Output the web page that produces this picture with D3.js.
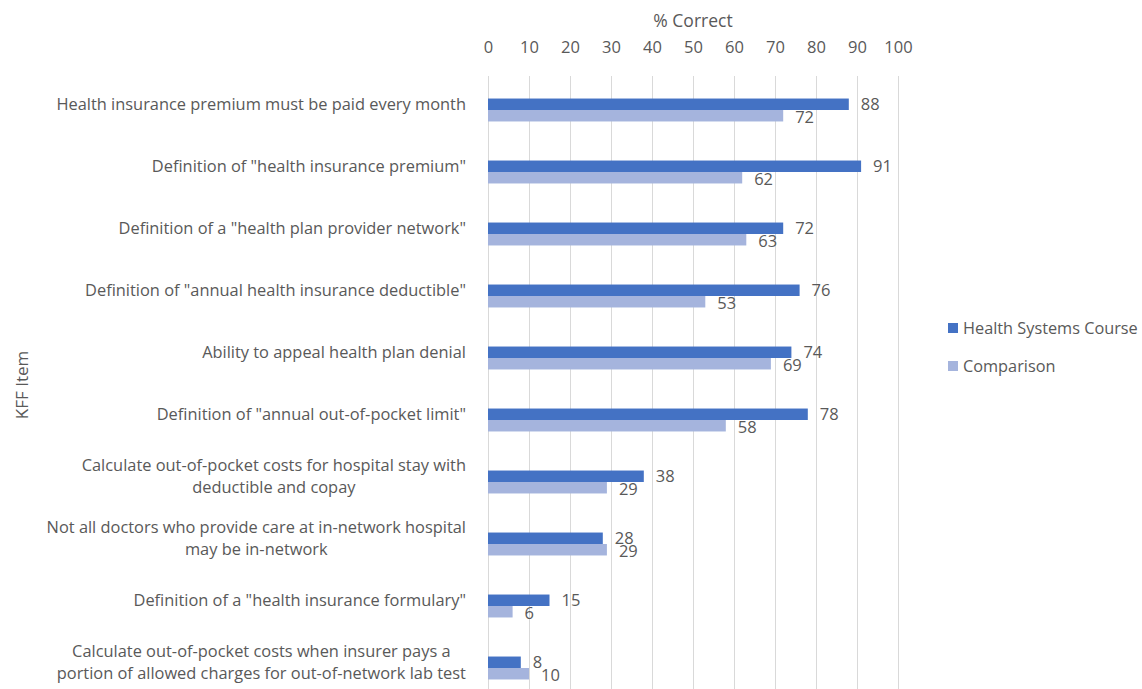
<!DOCTYPE html>
<html><head><meta charset="utf-8">
<script src="https://cdn.jsdelivr.net/npm/d3@7"></script>
<style>body{margin:0;background:#fff}svg{display:block}</style>
</head><body>
<svg id="c" width="1142" height="689"></svg>
<script>
const categories = [
  ["Health insurance premium must be paid every month"],
  ["Definition of \"health insurance premium\""],
  ["Definition of a \"health plan provider network\""],
  ["Definition of \"annual health insurance deductible\""],
  ["Ability to appeal health plan denial"],
  ["Definition of \"annual out-of-pocket limit\""],
  ["Calculate out-of-pocket costs for hospital stay with", "deductible and copay"],
  ["Not all doctors who provide care at in-network hospital", "may be in-network"],
  ["Definition of a \"health insurance formulary\""],
  ["Calculate out-of-pocket costs when insurer pays a", "portion of allowed charges for out-of-network lab test"]
];
const seriesNames = ["Health Systems Course", "Comparison"];
const courseValues = [88, 91, 72, 76, 74, 78, 38, 28, 15, 8];
const comparisonValues = [72, 62, 63, 53, 69, 58, 29, 29, 6, 10];
const xTicks = [0, 10, 20, 30, 40, 50, 60, 70, 80, 90, 100];
const colors = ["#4472C4", "#A5B4DD"];

const svg = d3.select("#c");
const font = "'Open Sans', 'Noto Sans', sans-serif";
const textColor = "#595959";
const L = 488, R = 898, T = 76, B = 689;

const x = d3.scaleLinear().domain([0, 100]).range([L, R]);
const keys = categories.map((c, i) => i);
const y = d3.scaleBand().domain(keys).range([79, 699]).paddingInner(0.63).paddingOuter(0.315);
const ys = d3.scaleBand().domain(seriesNames).range([0, y.bandwidth()]);

// gridlines
svg.append("g").selectAll("line").data(xTicks).join("line")
  .attr("x1", d => x(d) + 0.5).attr("x2", d => x(d) + 0.5)
  .attr("y1", T).attr("y2", B)
  .attr("stroke", "#d9d9d9").attr("stroke-width", 1);

// top axis
const ax = svg.append("g").attr("transform", `translate(0,${T})`)
  .call(d3.axisTop(x).tickValues(xTicks).tickSize(0).tickPadding(23));
ax.select(".domain").remove();
ax.selectAll("text").attr("font-family", font).attr("font-size", 16.5).attr("fill", textColor);

svg.append("text").attr("x", x(50)).attr("y", 21).attr("dy", "0.35em")
  .attr("text-anchor", "middle").attr("font-family", font).attr("font-size", 17.5)
  .attr("fill", textColor).text("% Correct");

// y title
svg.append("text").attr("transform", "translate(22,385) rotate(-90)")
  .attr("dy", "0.35em").attr("text-anchor", "middle").attr("font-family", font)
  .attr("font-size", 17).attr("fill", textColor).text("KFF Item");

// category labels
const lineH = 22;
const lab = svg.append("g").selectAll("text").data(categories).join("text")
  .attr("font-family", font).attr("font-size", 16.4).attr("fill", textColor)
  .attr("text-anchor", "middle");
lab.each(function(lines, i) {
  const cy = y(i) + y.bandwidth() / 2 - 6;
  const n = lines.length;
  const t = d3.select(this);
  lines.forEach((ln, j) => {
    t.append("tspan").attr("x", 0).attr("y", cy + (j - (n - 1) / 2) * lineH)
      .attr("dy", "0.35em").text(ln);
  });
});
lab.each(function() {
  const bb = this.getBBox();
  const cx = 466 - bb.width / 2;
  d3.select(this).selectAll("tspan").attr("x", cx);
});

// bars
const data = keys.map(i => ({ i, vals: [courseValues[i], comparisonValues[i]] }));
const grp = svg.append("g").selectAll("g").data(data).join("g")
  .attr("transform", d => `translate(0,${y(d.i)})`);
grp.selectAll("rect").data(d => d.vals.map((v, k) => ({ v, k }))).join("rect")
  .attr("x", x(0)).attr("y", d => ys(seriesNames[d.k]))
  .attr("width", d => x(d.v) - x(0)).attr("height", ys.bandwidth())
  .attr("fill", d => colors[d.k]);
grp.selectAll("text").data(d => d.vals.map((v, k) => ({ v, k }))).join("text")
  .attr("x", d => x(d.v) + 12).attr("y", d => ys(seriesNames[d.k]) + ys.bandwidth() / 2 + (d.k ? 2 : 0))
  .attr("dy", "0.35em").attr("font-family", font).attr("font-size", 16.5)
  .attr("fill", textColor).text(d => d.v);

// legend
const lg = svg.append("g").selectAll("g").data(seriesNames).join("g")
  .attr("transform", (d, i) => `translate(948,${323 + i * 38})`);
lg.append("rect").attr("width", 10).attr("height", 10).attr("fill", (d, i) => colors[i]);
lg.append("text").attr("x", 15).attr("y", 5).attr("dy", "0.35em")
  .attr("font-family", font).attr("font-size", 16.3).attr("fill", textColor).text(d => d);
</script>
</body></html>
